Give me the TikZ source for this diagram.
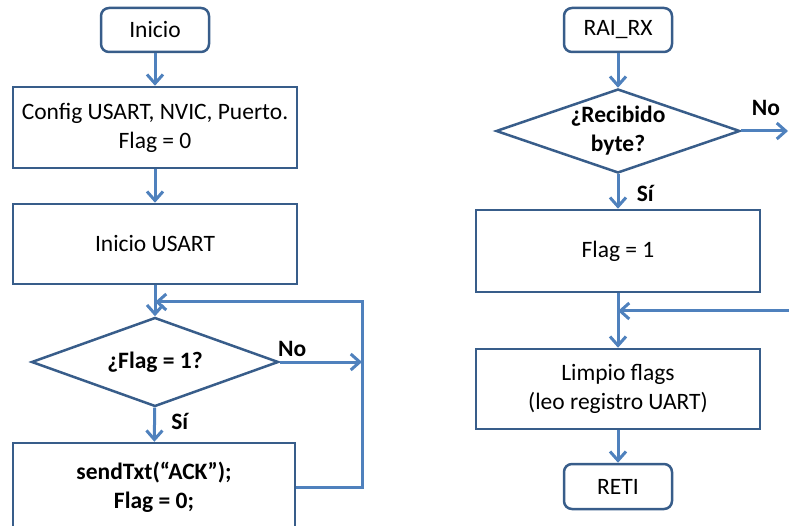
\documentclass[tikz,border=0pt]{standalone}
\usepackage{fontspec}
\setmainfont{Carlito}
\usetikzlibrary{shapes.geometric,arrows.meta}
\definecolor{lineblue}{HTML}{4F81BD}
\definecolor{edgeblue}{HTML}{385D8A}
\newcommand{\chartfont}{\fontsize{23.5}{29}\selectfont}
\tikzset{
	box/.style={draw=edgeblue,line width=2.5pt,minimum width=284pt,inner sep=0pt,align=center,font=\chartfont},
	term/.style={box,rounded corners=8pt,minimum width=108pt,minimum height=44pt},
	ask/.style={diamond,aspect=2.8,draw=edgeblue,line width=2.5pt,inner sep=0pt,align=center,font=\chartfont\bfseries},
	flow/.style={draw=lineblue,line width=3pt,-{Straight Barb[length=9pt,width=16pt]}},
	tag/.style={font=\chartfont\bfseries}
}

\begin{document}
\begin{tikzpicture}[x=1pt,y=-1pt]
	\useasboundingbox (0,0) rectangle (789,526);
	\clip (0,0) rectangle (789,526);
	% main program
	\node[term] (inicio) at (155,30) {Inicio};
	\node[box,minimum height=81pt] (config) at (155,127.5) {Config USART, NVIC, Puerto.\\Flag = 0};
	\node[box,minimum height=80pt] (usart) at (155,244) {Inicio USART};
	\node[ask,minimum width=247pt,minimum height=89pt] (flagq) at (155,362) {¿Flag = 1?};
	\node[box,minimum height=88pt,minimum width=282pt,font=\chartfont\bfseries] (send) at (154,487) {sendTxt(“ACK”);\\Flag = 0;};
	\coordinate (loopbr) at (362,487);
	\coordinate (looptr) at (362,302);
	\coordinate (loopin) at (flagq.north |- looptr);
	\draw[flow] (inicio) -- (config);
	\draw[flow] (config) -- (usart);
	\draw[flow] (usart) -- (flagq);
	\draw[flow] (flagq) -- node[tag,right=12pt,pos=0.4] {Sí} (send);
	\draw[flow] (flagq.east) -- node[tag,above,pos=0.15] {No} (flagq.east -| looptr);
	\draw[flow] (send.east) -- (loopbr) -- (looptr) -- (loopin);
	% interrupt routine
	\node[term] (rai) at (618,30) {RAI\_RX};
	\node[ask,minimum width=244pt,minimum height=84pt] (byteq) at (618,131) {¿Recibido\\byte?};
	\node[box,minimum height=82pt] (flag1) at (618,251) {Flag = 1};
	\node[box,minimum height=80pt] (limpio) at (618,389) {Limpio flags\\(leo registro UART)};
	\node[term,minimum height=45pt] (reti) at (618,486.5) {RETI};
	\coordinate (byteout) at (788,131);
	\coordinate (backin) at (789,311);
	\draw[flow] (rai) -- (byteq);
	\draw[flow] (byteq.east) -- node[tag,above=10pt,pos=0.53] {No} (byteout);
	\draw[flow] (byteq) -- node[tag,right=14pt,pos=0.55] {Sí} (flag1);
	\draw[flow] (flag1) -- (limpio);
	\draw[flow] (backin) -- (backin -| limpio.north);
	\draw[flow] (limpio) -- (reti);
\end{tikzpicture}
\end{document}
